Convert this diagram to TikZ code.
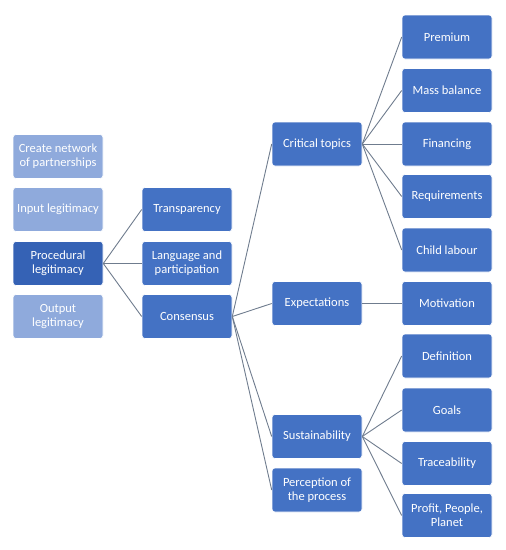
\documentclass[tikz,border=0pt]{standalone}
\usepackage{fontspec}
\setmainfont{Carlito}
\definecolor{boxblue}{HTML}{4472C4}
\definecolor{boxdark}{HTML}{3562B5}
\definecolor{boxlight}{HTML}{8FAADC}
\definecolor{linegray}{HTML}{6F7C8E}
\tikzset{
  box/.style={draw=white, line width=0.6pt, rounded corners=3pt, fill=boxblue,
    minimum width=90pt, minimum height=44pt, align=center,
    text=white, font=\fontsize{12.5}{14.3}\selectfont, inner sep=1pt},
  lightbox/.style={box, fill=boxlight},
  darkbox/.style={box, fill=boxdark},
  link/.style={draw=linegray, line width=0.9pt}
}
\begin{document}
\begin{tikzpicture}[x=1pt, y=-1pt]
  \useasboundingbox (0,0) rectangle (506,550);

  % legitimacy column
  \node[lightbox] (network)    at (58,156.5) {Create network\\of partnerships};
  \node[lightbox] (input)      at (58,209.5) {Input legitimacy};
  \node[darkbox]  (procedural) at (58,263.5) {Procedural\\legitimacy};
  \node[lightbox] (output)     at (58,316.5) {Output\\legitimacy};

  % second column
  \node[box] (transparency) at (187,209.5) {Transparency};
  \node[box] (language)     at (187,263.5) {Language and\\participation};
  \node[box] (consensus)    at (187,316.5) {Consensus};

  % third column
  \node[box] (critical)     at (317,144) {Critical topics};
  \node[box] (expectations) at (317,303.5) {Expectations};
  \node[box] (sustain)      at (317,436.5) {Sustainability};
  \node[box] (perception)   at (317,490) {Perception of\\the process};

  % fourth column
  \node[box] (premium)      at (447,37)  {Premium};
  \node[box] (mass)         at (447,90.5) {Mass balance};
  \node[box] (financing)    at (447,144) {Financing};
  \node[box] (requirements) at (447,196.5) {Requirements};
  \node[box] (child)        at (447,250) {Child labour};
  \node[box] (motivation)   at (447,303.5) {Motivation};
  \node[box] (definition)   at (447,356) {Definition};
  \node[box] (goals)        at (447,410) {Goals};
  \node[box] (traceability) at (447,463.5) {Traceability};
  \node[box] (profit)       at (447,515.5) {Profit, People,\\Planet};

  % connectors
  \foreach \to in {transparency,language,consensus}
    \draw[link] (procedural.east) -- (\to.west);
  \foreach \to in {critical,expectations,sustain,perception}
    \draw[link] (consensus.east) -- (\to.west);
  \foreach \to in {premium,mass,financing,requirements,child}
    \draw[link] (critical.east) -- (\to.west);
  \draw[link] (expectations.east) -- (motivation.west);
  \foreach \to in {definition,goals,traceability,profit}
    \draw[link] (sustain.east) -- (\to.west);
\end{tikzpicture}
\end{document}
